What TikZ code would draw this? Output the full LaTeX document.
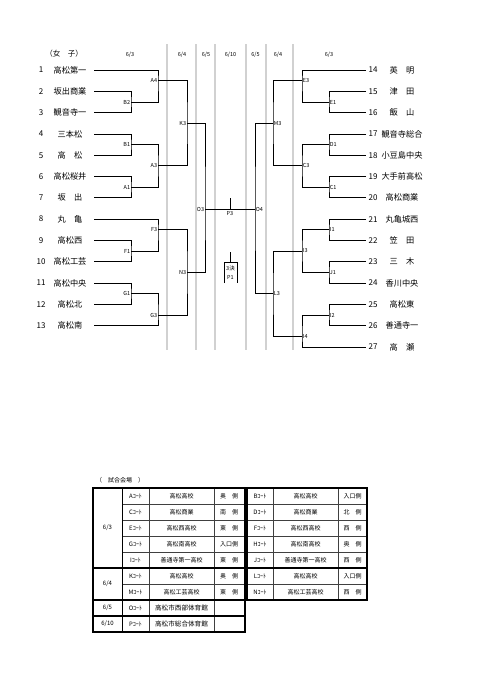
\documentclass[tikz,border=0pt]{standalone}
\usepackage{fontspec}
\setmainfont{Noto Sans CJK JP}
\newcommand\myfs[1]{\fontsize{#1}{#1}\selectfont}
\tikzset{
  team/.style={font=\myfs{8.2}, inner sep=0pt},
  num/.style={font=\myfs{8}, inner sep=0pt},
  lbl/.style={font=\myfs{5.5}, inner sep=0.7pt},
  hdr/.style={font=\myfs{5.5}, inner sep=0pt},
  br/.style={line width=0.8pt, black},
  colline/.style={line width=1.3pt, black!18},
  tc/.style={font=\myfs{6}, inner sep=0pt},
  tthin/.style={line width=0.45pt, black!75},
  tthick/.style={line width=1.3pt, black},
}
\begin{document}
\begin{tikzpicture}[x=1pt,y=-1pt]
\path[use as bounding box] (0,0) rectangle (481,680);
% column separators
\foreach \xx/\nm in {167/g1,196/g2,215/g3,246/g4,266/g5,293/g6}{
  \coordinate (\nm a) at (\xx,44); \coordinate (\nm b) at (\xx,350);
  \draw[colline] (\nm a) -- (\nm b);
}
% headers
\node[font=\myfs{7.5}] (title) at (64,54) {（女　子）};
\node[hdr] (h1) at (130,55) {6/3};
\node[hdr] (h2) at (182,55) {6/4};
\node[hdr] (h3) at (206,55) {6/5};
\node[hdr] (h4) at (230.5,55) {6/10};
\node[hdr] (h5) at (255.5,55) {6/5};
\node[hdr] (h6) at (278,55) {6/4};
\node[hdr] (h7) at (329,55) {6/3};
% left teams
\foreach \i/\nm in {1/高松第一,2/坂出商業,3/観音寺一,4/三本松,5/高　松,6/高松桜井,7/坂　出,8/丸　亀,9/高松西,10/高松工芸,11/高松中央,12/高松北,13/高松南}{
  \pgfmathsetmacro\yy{70+(\i-1)*21.3}
  \node[num] (ln\i) at (41,\yy) {\i};
  \node[team] (lt\i) at (70,\yy) {\nm};
  \coordinate (ls\i) at (94,\yy);
}
% right teams
\foreach \i/\nm in {14/英　明,15/津　田,16/飯　山,17/観音寺総合,18/小豆島中央,19/大手前高松,20/高松商業,21/丸亀城西,22/笠　田,23/三　木,24/香川中央,25/高松東,26/善通寺一,27/高　瀬}{
  \pgfmathsetmacro\yy{70+(\i-14)*21.3}
  \node[num] (rn\i) at (373,\yy) {\i};
  \node[team] (rt\i) at (402,\yy) {\nm};
  \coordinate (rs\i) at (366,\yy);
}
% left match points
\coordinate (B2) at (131,102);
\coordinate (A4) at (158,80.65);
\coordinate (B1) at (131,144.5);
\coordinate (A1) at (131,187.15);
\coordinate (A3) at (158,165.8);
\coordinate (K3) at (187,123.4);
\coordinate (F1) at (131,251);
\coordinate (F3) at (158,229.75);
\coordinate (G1) at (131,293.6);
\coordinate (G3) at (158,315);
\coordinate (N3) at (187,272.5);
\coordinate (O3) at (205,209);
% right match points
\coordinate (E1) at (329,102);
\coordinate (E3) at (302,80.65);
\coordinate (D1) at (329,144.5);
\coordinate (C1) at (329,187.15);
\coordinate (C3) at (302,165.8);
\coordinate (M3) at (273,123.4);
\coordinate (I1) at (329,229.75);
\coordinate (J1) at (329,272.3);
\coordinate (I3) at (302,251);
\coordinate (I2) at (329,315);
\coordinate (I4) at (302,336.2);
\coordinate (L3) at (273,293.6);
\coordinate (O4) at (255,209);
% left bracket lines
\draw[br] (ls2) -| (B2) |- (ls3);
\draw[br] (ls1) -| (A4) |- (B2);
\draw[br] (ls4) -| (B1) |- (ls5);
\draw[br] (ls6) -| (A1) |- (ls7);
\draw[br] (B1) -| (A3) |- (A1);
\draw[br] (A4) -| (K3) |- (A3);
\draw[br] (ls9) -| (F1) |- (ls10);
\draw[br] (ls8) -| (F3) |- (F1);
\draw[br] (ls11) -| (G1) |- (ls12);
\draw[br] (G1) -| (G3) |- (ls13);
\draw[br] (F3) -| (N3) |- (G3);
\draw[br] (K3) -| (O3) |- (N3);
% right bracket lines
\draw[br] (rs15) -| (E1) |- (rs16);
\draw[br] (rs14) -| (E3) |- (E1);
\draw[br] (rs17) -| (D1) |- (rs18);
\draw[br] (rs19) -| (C1) |- (rs20);
\draw[br] (D1) -| (C3) |- (C1);
\draw[br] (E3) -| (M3) |- (C3);
\draw[br] (rs21) -| (I1) |- (rs22);
\draw[br] (rs23) -| (J1) |- (rs24);
\draw[br] (I1) -| (I3) |- (J1);
\draw[br] (rs25) -| (I2) |- (rs26);
\draw[br] (I2) -| (I4) |- (rs27);
\draw[br] (I3) -| (L3) |- (I4);
\draw[br] (M3) -| (O4) |- (L3);
\draw[br] (O3) -- (O4);
% final and third place
\coordinate (P3) at (230,209);
\coordinate (P3t) at (230,198);
\draw[br] (P3t) -- (P3);
\node[lbl, anchor=north] (P3l) at (230,210.5) {P3};
\coordinate (P1t) at (230,252);
\coordinate (P1) at (230,262);
\coordinate (P1a) at (224,283);
\coordinate (P1b) at (237,262);
\coordinate (P1c) at (237,283);
\draw[br] (P1t) -- (P1);
\draw[br] (P1a) |- (P1b) -- (P1c);
\node[lbl] (P1x) at (230.5,268) {3決};
\node[lbl] (P1l) at (230.5,277) {P1};
% labels left
\foreach \m in {B2,A4,B1,A1,A3,K3,F1,F3,G1,G3,N3,O3}{
  \node[lbl, anchor=east] (\m l) at (\m) {\m};
}
\foreach \m in {E1,E3,D1,C1,C3,M3,I1,J1,I3,I2,I4,L3,O4}{
  \node[lbl, anchor=west] (\m l) at (\m) {\m};
}
% ---------- table ----------
\node[tc, anchor=west] (ttitle) at (96,480) {（　試合会場　）};
% left table lines
\draw[tthin] (122,504) -- (245,504) (122,520) -- (245,520) (122,536) -- (245,536) (122,552) -- (245,552) (122,584) -- (245,584);
\draw[tthin] (149,488) -- (149,632) (214,488) -- (214,632);
\draw[line width=0.8pt] (122,488) -- (122,632);
\draw[tthick] (93,568) -- (245,568) (93,600) -- (245,600) (93,616) -- (245,616);
\draw[tthick] (93,488) rectangle (245,632);
% right table lines
\draw[tthin] (247,504) -- (367,504) (247,520) -- (367,520) (247,536) -- (367,536) (247,552) -- (367,552) (247,584) -- (367,584);
\draw[tthin] (273,488) -- (273,600) (338,488) -- (338,600);
\draw[tthick] (247,568) -- (367,568);
\draw[tthick] (247,488) rectangle (367,600);
% dates
\node[tc] (d1) at (107.5,528) {6/3};
\node[tc] (d2) at (107.5,584) {6/4};
\node[tc] (d3) at (107.5,608) {6/5};
\node[tc] (d4) at (107.5,624) {6/10};
% left rows
\foreach \k/\c/\v/\s in {1/Aｺｰﾄ/高松高校/奥　側,2/Cｺｰﾄ/高松商業/南　側,3/Eｺｰﾄ/高松西高校/東　側,4/Gｺｰﾄ/高松南高校/入口側,5/Iｺｰﾄ/善通寺第一高校/東　側,6/Kｺｰﾄ/高松高校/奥　側,7/Mｺｰﾄ/高松工芸高校/東　側}{
  \pgfmathsetmacro\yy{496+16*(\k-1)}
  \node[tc] (lc\k) at (135.5,\yy) {\c};
  \node[tc] (lv\k) at (181.5,\yy) {\v};
  \node[tc] (lsd\k) at (229,\yy) {\s};
}
\node[tc] (lc8) at (135.5,608) {Oｺｰﾄ};
\node[tc, font=\myfs{6.6}] (lv8) at (181.5,608) {高松市西部体育館};
\node[tc] (lc9) at (135.5,624) {Pｺｰﾄ};
\node[tc, font=\myfs{6.6}] (lv9) at (181.5,624) {高松市総合体育館};
% right rows
\foreach \k/\c/\v/\s in {1/Bｺｰﾄ/高松高校/入口側,2/Dｺｰﾄ/高松商業/北　側,3/Fｺｰﾄ/高松西高校/西　側,4/Hｺｰﾄ/高松南高校/奥　側,5/Jｺｰﾄ/善通寺第一高校/西　側,6/Lｺｰﾄ/高松高校/入口側,7/Nｺｰﾄ/高松工芸高校/西　側}{
  \pgfmathsetmacro\yy{496+16*(\k-1)}
  \node[tc] (rc\k) at (260,\yy) {\c};
  \node[tc] (rv\k) at (305.5,\yy) {\v};
  \node[tc] (rsd\k) at (352.5,\yy) {\s};
}
\end{tikzpicture}
\end{document}
